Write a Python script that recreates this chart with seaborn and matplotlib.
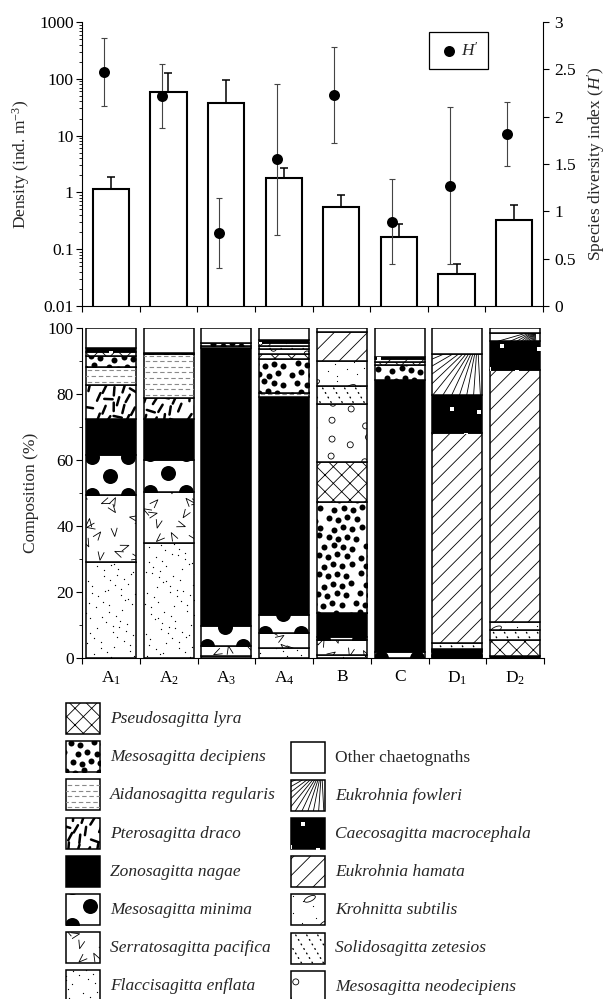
import numpy as np
import matplotlib
matplotlib.use("Agg")
import matplotlib.pyplot as plt
import seaborn as sns
from matplotlib.collections import LineCollection
from matplotlib.patches import Rectangle
from matplotlib.path import Path
from matplotlib.ticker import LogLocator, NullFormatter, MultipleLocator

# ---------------------------------------------------------------- data
sites = ["A1", "A2", "A3", "A4", "B", "C", "D1", "D2"]
site_labels = [r"A$_1$", r"A$_2$", r"A$_3$", r"A$_4$", "B", "C", r"D$_1$", r"D$_2$"]

density = [1.15, 58.0, 38.0, 1.77, 0.55, 0.165, 0.037, 0.33]        # ind. m^-3
density_sd = [0.75, 70.0, 57.0, 0.88, 0.35, 0.115, 0.017, 0.27]
diversity = [2.47, 2.22, 0.77, 1.55, 2.23, 0.89, 1.27, 1.82]          # H'
diversity_sd = [0.36, 0.34, 0.37, 0.80, 0.51, 0.45, 0.83, 0.34]

# composition (%) per site, stacked from bottom to top in this order
flaccisagitta_enflata     = [29.2, 35.0,  0.8,  3.0,  1.0,  0.0,  0.3,  0.0]
serratosagitta_pacifica   = [20.2, 15.2,  3.0,  4.6,  4.5,  0.0,  0.3,  0.0]
mesosagitta_minima        = [12.0,  9.8,  6.0,  5.5,  1.0,  2.0,  0.3,  0.0]
zonosagitta_nagae         = [11.0, 12.4, 84.0, 66.0,  7.1, 82.2,  1.0,  0.8]
pterosagitta_draco        = [10.4,  6.4,  0.0,  0.0,  0.0,  0.0,  0.0,  0.0]
aidanosagitta_regularis   = [ 5.2, 13.1,  0.8,  1.2,  0.0,  0.0,  0.0,  0.0]
mesosagitta_decipiens     = [ 3.5,  0.4,  0.9, 10.3, 33.8,  4.6,  0.3,  0.0]
pseudosagitta_lyra        = [ 1.3,  0.0,  0.0,  1.5, 12.1,  0.8,  0.3,  4.7]
mesosagitta_neodecipiens  = [ 0.0,  0.0,  0.0,  1.6, 17.3,  0.0,  0.3,  0.0]
solidosagitta_zetesios    = [ 0.0,  0.0,  0.0,  0.8,  5.7,  0.0,  1.7,  3.1]
krohnitta_subtilis        = [ 0.0,  0.0,  0.0,  0.8,  7.4,  0.0,  0.0,  2.5]
eukrohnia_hamata          = [ 0.0,  0.0,  0.0,  0.0,  8.7,  0.8, 63.6, 76.0]
caecosagitta_macrocephala = [ 1.2,  0.0,  0.0,  0.9,  0.0,  0.8, 11.5,  8.8]
eukrohnia_fowleri         = [ 0.0,  0.0,  0.0,  0.0,  0.0,  0.0, 12.4,  2.4]
other_chaetognaths        = [ 6.0,  7.7,  4.5,  3.8,  1.4,  8.8,  8.0,  1.7]

composition = {
    "Flaccisagitta enflata": flaccisagitta_enflata,
    "Serratosagitta pacifica": serratosagitta_pacifica,
    "Mesosagitta minima": mesosagitta_minima,
    "Zonosagitta nagae": zonosagitta_nagae,
    "Pterosagitta draco": pterosagitta_draco,
    "Aidanosagitta regularis": aidanosagitta_regularis,
    "Mesosagitta decipiens": mesosagitta_decipiens,
    "Pseudosagitta lyra": pseudosagitta_lyra,
    "Mesosagitta neodecipiens": mesosagitta_neodecipiens,
    "Solidosagitta zetesios": solidosagitta_zetesios,
    "Krohnitta subtilis": krohnitta_subtilis,
    "Eukrohnia hamata": eukrohnia_hamata,
    "Caecosagitta macrocephala": caecosagitta_macrocephala,
    "Eukrohnia fowleri": eukrohnia_fowleri,
    "Other chaetognaths": other_chaetognaths,
}

legend_col1 = ["Pseudosagitta lyra", "Mesosagitta decipiens", "Aidanosagitta regularis",
               "Pterosagitta draco", "Zonosagitta nagae", "Mesosagitta minima",
               "Serratosagitta pacifica", "Flaccisagitta enflata"]
legend_col2 = ["Other chaetognaths", "Eukrohnia fowleri", "Caecosagitta macrocephala",
               "Eukrohnia hamata", "Krohnitta subtilis", "Solidosagitta zetesios",
               "Mesosagitta neodecipiens"]

# fill texture used for each taxon
texture_of = {
    "Flaccisagitta enflata": "specks",
    "Serratosagitta pacifica": "vees",
    "Mesosagitta minima": "bigdots",
    "Zonosagitta nagae": "solid",
    "Pterosagitta draco": "dashes",
    "Aidanosagitta regularis": "graydash",
    "Mesosagitta decipiens": "dots",
    "Pseudosagitta lyra": "cross",
    "Mesosagitta neodecipiens": "rings",
    "Solidosagitta zetesios": "dotdiag",
    "Krohnitta subtilis": "ellipses",
    "Eukrohnia hamata": "diag",
    "Caecosagitta macrocephala": "squares",
    "Eukrohnia fowleri": "fan",
    "Other chaetognaths": "plain",
}

# ---------------------------------------------------------------- style
sns.set_style("ticks")
FS = 12.5
plt.rcParams.update({
    "font.family": ["Liberation Serif", "DejaVu Serif"],
    "mathtext.fontset": "custom",
    "mathtext.rm": "Liberation Serif",
    "mathtext.it": "Liberation Serif:italic",
    "mathtext.bf": "Liberation Serif:bold",
    "font.size": FS,
    "axes.linewidth": 0.8,
    "hatch.linewidth": 0.6,
    "hatch.color": "black",
    "xtick.color": "black",
    "ytick.color": "black",
    "axes.edgecolor": "black",
})

W, H = 611, 999
fig = plt.figure(figsize=(W / 100, H / 100), dpi=100)
PT = 0.72  # points per pixel


def fig_rect(x0, y0, x1, y1):
    return [x0 / W, 1 - y1 / H, (x1 - x0) / W, (y1 - y0) / H]


ax1 = fig.add_axes(fig_rect(82, 22, 543, 306))
ax3 = fig.add_axes(fig_rect(82, 327.7, 544, 658.3))

# ---------------------------------------------------------------- textures
def r2(n, seed):
    return (n * 0.7548776662 + seed) % 1.0, (n * 0.5698402910 + seed * 0.37) % 1.0


def grid(bb, dx, dy, stagger=0.5, jitter=0.0, seed=0.0, x_shift=0.0):
    pts = []
    nx = int(bb.width / dx) + 3
    ny = int(bb.height / dy) + 3
    n = 0
    for j in range(-1, ny):
        for i in range(-1, nx):
            ux, uy = r2(n, seed)
            n += 1
            pts.append((bb.x0 + x_shift + (i + stagger * (j % 2)) * dx + jitter * dx * (ux - 0.5),
                        bb.y0 + j * dy + jitter * dy * (uy - 0.5)))
    return np.array(pts)


_t = np.linspace(0, 2 * np.pi, 41)
_ex, _ey = np.cos(_t), 0.42 * np.sin(_t)
_rot = np.radians(25)
ELLIPSE = Path(np.column_stack([_ex * np.cos(_rot) - _ey * np.sin(_rot),
                                _ex * np.sin(_rot) + _ey * np.cos(_rot)]))


def texture(ax, patch, kind):
    bb = patch.get_window_extent()
    if bb.height < 0.6 or bb.width < 0.6:
        return
    inv = ax.transData.inverted()
    z = patch.get_zorder() + 0.05
    seed = (bb.x0 * 0.0131 + bb.y0 * 0.0071) % 1.0

    def dots(pts, size_px, color="black", marker="o", hollow=False, lw=0.6):
        d = inv.transform(pts)
        kw = dict(s=(size_px * PT) ** 2, marker=marker, zorder=z)
        if hollow:
            coll = ax.scatter(d[:, 0], d[:, 1], facecolors="none", edgecolors=color,
                              linewidths=lw, **kw)
        else:
            coll = ax.scatter(d[:, 0], d[:, 1], c=color, linewidths=0, **kw)
        coll.set_clip_path(patch)

    def lines(segs, lw, color="black", ls="solid", cap="butt"):
        segs_d = [inv.transform(np.asarray(s, float)) for s in segs]
        lc = LineCollection(segs_d, colors=color, linewidths=lw, linestyles=ls,
                            zorder=z, capstyle=cap)
        ax.add_collection(lc, autolim=False)
        lc.set_clip_path(patch)

    if kind == "solid":
        patch.set_facecolor("black")
    elif kind == "cross":
        patch.set_hatch("xx")
    elif kind == "diag":
        patch.set_hatch("//")
    elif kind == "specks":
        dots(grid(bb, 9, 9, 0.5, 1.0, seed), 1.3)
    elif kind == "vees":
        segs = []
        for k, p in enumerate(grid(bb, 17, 15, 0.5, 0.7, seed)):
            a = 2 * np.pi * ((k * 0.618034 + seed) % 1.0)
            L = 9.0
            segs.append([p + L * np.array([np.cos(a), np.sin(a)]), p,
                         p + L * np.array([np.cos(a + 0.7), np.sin(a + 0.7)])])
        lines(segs, 0.6)
    elif kind == "bigdots":
        dots(grid(bb, 36, 19, 0.5, 0.0, seed, x_shift=6), 15)
    elif kind == "dashes":
        segs = []
        for k, p in enumerate(grid(bb, 11, 10, 0.5, 0.5, seed)):
            a = np.radians(55 + 35 * ((k * 0.618034 + seed) % 1.0))
            if k % 5 == 2:
                a += np.pi / 2
            v = 4.2 * np.array([np.cos(a), np.sin(a)])
            segs.append([p - v, p + v])
        lines(segs, 2.5 * PT, cap="round")
    elif kind == "graydash":
        ys = np.arange(bb.y0 + 3, bb.y1, 5.6)
        segs = [[(bb.x0 - 6, y), (bb.x1 + 6, y)] for y in ys]
        lines(segs, 0.8, color="#8a8a8a", ls=[(0, (4, 2.5)), (3, (4, 2.5))])
    elif kind == "dots":
        dots(grid(bb, 10.5, 9.5, 0.5, 0.5, seed), 6)
    elif kind == "rings":
        dots(grid(bb, 22, 19, 0.5, 0.7, seed), 6, hollow=True)
    elif kind == "dotdiag":
        d = np.array([0.6, -1.0])
        d = d / np.hypot(*d)
        L = (bb.height + bb.width) * 1.5
        segs = [[(bb.x0 + c, bb.y1 + 2), (bb.x0 + c + L * d[0], bb.y1 + 2 + L * d[1])]
                for c in np.arange(-bb.height, bb.width + 12, 11)]
        lines(segs, 1.0, ls=(0, (0.6, 3.2)), cap="round")
    elif kind == "ellipses":
        dots(grid(bb, 13, 12, 0.5, 1.0, seed), 1.2)
        dots(grid(bb, 40, 28, 0.5, 0.4, (seed + 0.3) % 1.0), 11, marker=ELLIPSE,
             hollow=True, lw=0.6)
    elif kind == "squares":
        patch.set_facecolor("black")
        dots(grid(bb, 30, 24, 0.5, 0.3, seed), 5, color="white", marker="s")
    elif kind == "fan":
        o = np.array([bb.x1 - 0.1 * bb.width, bb.y1 + 0.35 * bb.height])
        L = 4 * max(bb.width, bb.height)
        segs = [[o, o + L * np.array([np.cos(np.radians(a)), np.sin(np.radians(a))])]
                for a in np.arange(196, 275, 7)]
        lines(segs, 0.6)


# ---------------------------------------------------------------- top panel
sns.barplot(x=sites, y=density, order=sites, ax=ax1, color="white", edgecolor="black",
            linewidth=1.5, width=0.63, errorbar=None, log_scale=(False, True))
ax1.set_yscale("log", nonpositive="clip")
x_pos = np.arange(len(sites))
ax1.errorbar(x_pos, density, yerr=[np.zeros(len(sites)), density_sd], fmt="none",
             ecolor="black", elinewidth=1.1, capsize=2.9, capthick=1.1, zorder=3)
ax1.set_ylim(0.01, 1000)
ax1.set_xlim(-0.5, len(sites) - 0.5)
ax1.set_yticks([0.01, 0.1, 1, 10, 100, 1000])
ax1.set_yticklabels(["0.01", "0.1", "1", "10", "100", "1000"])
ax1.yaxis.set_minor_locator(LogLocator(base=10, subs=np.arange(2, 10)))
ax1.yaxis.set_minor_formatter(NullFormatter())
ax1.set_xticks(np.arange(-0.5, len(sites), 1.0))
ax1.set_xticklabels([])
ax1.set_xlabel("")
ax1.set_ylabel("Density (ind. m$^{-3}$)", fontsize=FS, labelpad=5)
ax1.tick_params(axis="both", which="major", direction="out", length=4, width=0.8,
                labelsize=FS, pad=2)
ax1.tick_params(axis="y", which="minor", direction="out", length=2.2, width=0.6)
ax1.spines["top"].set_visible(False)
ax1.spines["right"].set_visible(False)

ax2 = ax1.twinx()
hx = x_pos - 0.12
ax2.errorbar(hx, diversity, yerr=diversity_sd, fmt="none", ecolor="#444444",
             elinewidth=0.8, capsize=2.3, capthick=0.8, zorder=4)
sns.scatterplot(x=hx, y=diversity, ax=ax2, color="black", s=(11 * PT) ** 2,
                edgecolor="black", linewidth=0, label="$H'$", zorder=5)
ax2.set_ylim(0, 3)
ax2.set_yticks([0, 0.5, 1, 1.5, 2, 2.5, 3])
ax2.set_yticklabels(["0", "0.5", "1", "1.5", "2", "2.5", "3"])
ax2.set_ylabel("Species diversity index ($H'$)", fontsize=FS, labelpad=7)
ax2.tick_params(axis="y", direction="out", length=4, width=0.8, labelsize=FS, pad=4)
for s in ("top", "left", "bottom"):
    ax2.spines[s].set_visible(False)
leg = ax2.legend(loc="upper left", bbox_to_anchor=(0.752, 0.965), frameon=True,
                 fancybox=False, edgecolor="black", framealpha=1, fontsize=FS,
                 handletextpad=0.1, borderpad=0.55, handlelength=1.2, borderaxespad=0)
leg.get_frame().set_linewidth(0.9)

# ---------------------------------------------------------------- bottom panel
segments = {}
base = np.zeros(len(sites))
for name, vals in composition.items():
    vals = np.asarray(vals, float)
    n0 = len(ax3.patches)
    sns.barplot(x=sites, y=vals, order=sites, ax=ax3, color="white", edgecolor="black",
                linewidth=1.1, width=0.87, errorbar=None, bottom=base.copy())
    segments[name] = list(ax3.patches[n0:])
    base += vals

ax3.set_xlim(-0.5, len(sites) - 0.5)
ax3.set_ylim(0, 100)
ax3.set_xlabel("")
ax3.set_ylabel("Composition (%)", fontsize=FS, labelpad=6)
ax3.set_xticks(np.arange(-0.5, len(sites), 1.0))
ax3.set_xticklabels([])
ax3.set_xticks(x_pos, minor=True)
ax3.set_xticklabels(site_labels, minor=True)
ax3.set_yticks(np.arange(0, 101, 20))
ax3.yaxis.set_minor_locator(MultipleLocator(10))
ax3.tick_params(axis="both", which="major", direction="out", length=4, width=0.8,
                labelsize=FS, pad=2)
ax3.tick_params(axis="y", which="minor", direction="out", length=2.2, width=0.6)
ax3.tick_params(axis="x", which="minor", length=0, pad=8, labelsize=FS)
ax3.spines["top"].set_visible(False)
ax3.spines["right"].set_visible(False)

for name, patches in segments.items():
    for p in patches:
        if p.get_height() <= 0:
            p.set_visible(False)
            continue
        texture(ax3, p, texture_of[name])

# ---------------------------------------------------------------- species key
lax = fig.add_axes([0, 0, 1, 1])
lax.set_xlim(0, W)
lax.set_ylim(H, 0)
lax.axis("off")


def key_entry(x, top, name):
    r = Rectangle((x, top), 34, 31, facecolor="white", edgecolor="black", linewidth=1.1)
    lax.add_patch(r)
    texture(lax, r, texture_of[name])
    style = "normal" if name.startswith("Other") else "italic"
    lax.text(x + 44, top + 16, name, fontsize=FS, fontstyle=style, va="center", ha="left")


for i, name in enumerate(legend_col1):
    key_entry(66, 703 + i * 38.2, name)
for i, name in enumerate(legend_col2):
    key_entry(291, 741.5 + i * 38.2, name)

fig.savefig("out.png", dpi=100)
